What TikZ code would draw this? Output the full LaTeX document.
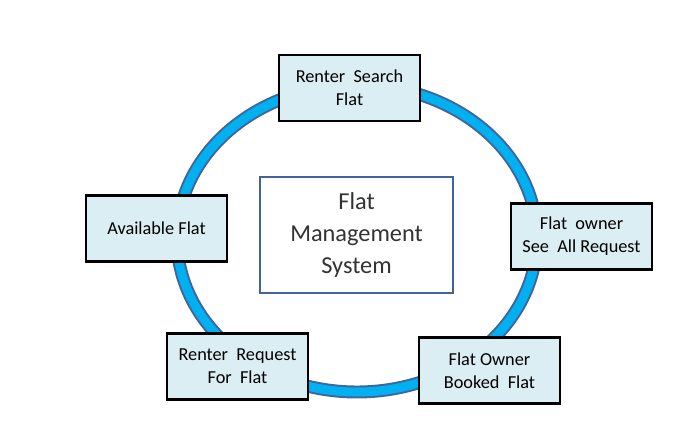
\documentclass[tikz,border=0pt]{standalone}
\usepackage{fontspec}
\setmainfont{Carlito}
\definecolor{ringblue}{HTML}{00B0F0}
\definecolor{ringedge}{HTML}{41649A}
\definecolor{boxfill}{HTML}{DAEEF3}
\definecolor{titlegray}{HTML}{333333}
\begin{document}
\begin{tikzpicture}[x=0.025cm,y=-0.025cm,
    stagebox/.style={draw=black,fill=boxfill,line width=1.8pt,minimum width=141*0.025cm,minimum height=66*0.025cm,align=center,font=\fontsize{13}{16.3}\selectfont,inner sep=0pt},
    titlebox/.style={draw=ringedge,fill=white,line width=1.2pt,minimum width=193*0.025cm,minimum height=116*0.025cm,align=center,font=\fontsize{17.3}{23}\selectfont,text=titlegray,inner sep=0pt}]
  \useasboundingbox (0,0) rectangle (688,432);

  % ring
  \draw[ringedge,line width=9.2pt] (357,238.5) ellipse [x radius=180,y radius=153.5];
  \draw[ringblue,line width=6.4pt] (357,238.5) ellipse [x radius=180,y radius=153.5];

  \node[titlebox] (fms) at (356.5,235) {Flat\\Management\\System};

  \node[stagebox] (search) at (349.5,88) {Renter~ Search\\Flat};
  \node[stagebox] (seeall) at (581.5,236.5) {Flat~ owner\\See~ All Request};
  \node[stagebox] (booked) at (489.5,370.5) {Flat Owner\\Booked~ Flat};
  \node[stagebox] (request) at (237.5,366.5) {Renter~ Request\\For~ Flat};
  \node[stagebox] (avail) at (156.5,228.5) {Available Flat};
\end{tikzpicture}
\end{document}
